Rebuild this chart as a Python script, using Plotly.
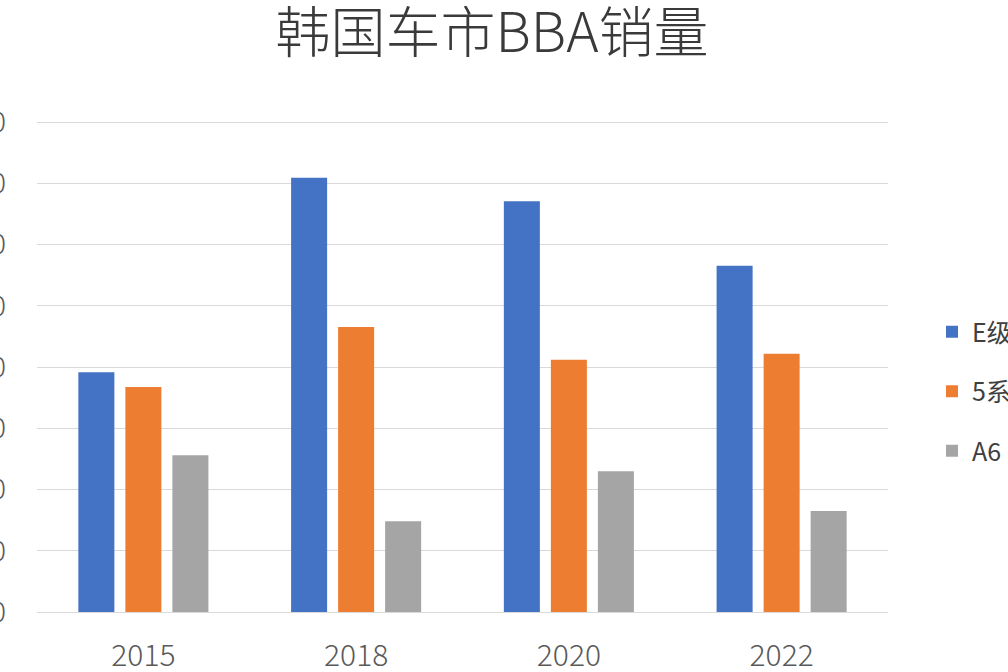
import plotly.graph_objects as go

years = ["2015", "2018", "2020", "2022"]
series_names = ["E级", "5系", "A6"]
e_class = [19580, 35460, 33550, 28280]
bmw5 = [18380, 23270, 20610, 21100]
audi_a6 = [12800, 7420, 11500, 8240]
y_ticks = [0, 5000, 10000, 15000, 20000, 25000, 30000, 35000, 40000]
title_text = "韩国车市BBA销量"

colors = ["#4472C4", "#ED7D31", "#A5A5A5"]
values = [e_class, bmw5, audi_a6]

fig = go.Figure()
for i, (name, vals) in enumerate(zip(series_names, values)):
    fig.add_trace(go.Bar(
        x=years, y=vals, name=name, legendgroup=name,
        marker=dict(color=colors[i], line=dict(width=0)),
    ))

W, H = 1008, 672
ml, mr, mt, mb = 37, 120, 121, 60

fig.update_layout(
    width=W, height=H,
    margin=dict(l=ml, r=mr, t=mt, b=mb, autoexpand=False),
    paper_bgcolor="white", plot_bgcolor="white",
    barmode="group", bargap=0.337, bargroupgap=0.234,
    font=dict(family="Noto Sans CJK SC, Noto Sans, sans-serif", color="#595959"),
    title=dict(
        text=title_text, x=492 / W, xanchor="center", xref="container",
        y=1 - 33 / H, yanchor="middle", yref="container",
        font=dict(size=55, color="#3a3a3a", family="Noto Sans CJK SC", weight=300),
    ),
    legend=dict(
        x=(932 - ml) / (W - ml - mr), xanchor="left",
        y=(H - mb - 309) / (H - mt - mb), yanchor="top",
        font=dict(size=25, color="#404040"),
        tracegroupgap=24, traceorder="grouped",
        bgcolor="rgba(0,0,0,0)",
    ),
    xaxis=dict(
        showgrid=False, showline=True, linecolor="#d9d9d9", linewidth=1,
        ticks="", tickfont=dict(size=30, color="#595959", weight=300),
        ticklabelstandoff=17,
    ),
    yaxis=dict(
        range=[0, 40100], tickvals=y_ticks, tickformat="d",
        showgrid=True, gridcolor="#d9d9d9", gridwidth=1,
        zeroline=False, showline=False, ticks="",
        tickfont=dict(size=28, color="#595959", weight=300),
        ticklabelstandoff=30,
    ),
)

fig.write_html("out.html", config={"displayModeBar": False},
               post_script="document.body.style.margin='0';")
